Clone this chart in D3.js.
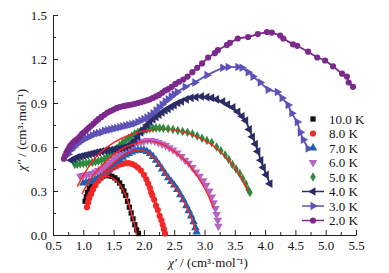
<!DOCTYPE html>
<html>
<head>
<meta charset="utf-8">
<script src="https://cdn.jsdelivr.net/npm/d3@7"></script>
<style>
  body { margin: 0; background: #fff; }
  text { font-family: "Liberation Serif", "Times New Roman", serif; }
</style>
</head>
<body>
<svg id="chart" width="389" height="273"></svg>
<script>
// Cole-Cole data: [chi', chi''] pairs
var labels = ["10.0 K", "8.0 K", "7.0 K", "6.0 K", "5.0 K", "4.0 K", "3.0 K", "2.0 K"];

var t10 = [[1.03,0.23],[1.05,0.26],[1.07,0.29],[1.1,0.32],[1.14,0.35],[1.18,0.37],[1.22,0.385],[1.27,0.395],[1.32,0.40],[1.37,0.405],[1.42,0.405],[1.47,0.40],[1.52,0.39],[1.56,0.375],[1.6,0.355],[1.64,0.33],[1.67,0.30],[1.7,0.27],[1.73,0.23],[1.76,0.19],[1.79,0.15],[1.82,0.11],[1.85,0.07],[1.88,0.035],[1.91,0.01]];
var t8 = [[1.06,0.19],[1.08,0.22],[1.1,0.25],[1.13,0.28],[1.16,0.31],[1.2,0.34],[1.25,0.37],[1.3,0.39],[1.35,0.41],[1.4,0.43],[1.45,0.445],[1.5,0.46],[1.55,0.47],[1.6,0.48],[1.65,0.485],[1.7,0.49],[1.75,0.49],[1.8,0.485],[1.85,0.475],[1.9,0.46],[1.95,0.44],[2.0,0.41],[2.04,0.38],[2.07,0.35],[2.1,0.32],[2.12,0.29],[2.14,0.27],[2.17,0.24],[2.2,0.2],[2.23,0.17],[2.26,0.13],[2.29,0.1],[2.31,0.07],[2.33,0.04],[2.35,0.01]];
var t7 = [[1.0,0.355],[1.05,0.36],[1.1,0.365],[1.15,0.37],[1.2,0.38],[1.25,0.39],[1.3,0.405],[1.35,0.42],[1.4,0.44],[1.45,0.46],[1.5,0.48],[1.55,0.50],[1.6,0.515],[1.65,0.53],[1.7,0.545],[1.75,0.555],[1.8,0.565],[1.85,0.575],[1.9,0.58],[1.95,0.58],[2.0,0.578],[2.05,0.57],[2.1,0.555],[2.15,0.535],[2.2,0.51],[2.25,0.48],[2.3,0.45],[2.35,0.42],[2.4,0.39],[2.45,0.365],[2.5,0.34],[2.55,0.31],[2.6,0.275],[2.65,0.24],[2.7,0.2],[2.74,0.165],[2.78,0.13],[2.82,0.09],[2.85,0.05],[2.87,0.02]];
var t6 = [[0.95,0.40],[1.0,0.405],[1.05,0.41],[1.1,0.415],[1.15,0.42],[1.2,0.43],[1.25,0.44],[1.3,0.45],[1.35,0.465],[1.4,0.48],[1.45,0.50],[1.5,0.52],[1.55,0.54],[1.6,0.56],[1.65,0.575],[1.7,0.59],[1.75,0.60],[1.8,0.61],[1.85,0.62],[1.9,0.63],[1.95,0.635],[2.0,0.64],[2.06,0.645],[2.12,0.645],[2.18,0.64],[2.24,0.63],[2.3,0.62],[2.36,0.61],[2.42,0.595],[2.48,0.58],[2.55,0.56],[2.62,0.535],[2.68,0.51],[2.74,0.49],[2.8,0.46],[2.86,0.43],[2.92,0.40],[2.98,0.37],[3.03,0.34],[3.08,0.30],[3.12,0.26],[3.15,0.22],[3.18,0.18],[3.2,0.14],[3.22,0.10],[3.23,0.06]];
var t5 = [[0.86,0.48],[0.9,0.482],[0.95,0.485],[1.0,0.488],[1.05,0.49],[1.1,0.492],[1.15,0.495],[1.2,0.50],[1.25,0.505],[1.3,0.51],[1.35,0.52],[1.4,0.535],[1.45,0.55],[1.5,0.57],[1.55,0.59],[1.6,0.61],[1.65,0.63],[1.7,0.645],[1.75,0.66],[1.8,0.675],[1.85,0.69],[1.9,0.70],[1.95,0.71],[2.0,0.715],[2.05,0.72],[2.1,0.725],[2.15,0.728],[2.2,0.73],[2.26,0.73],[2.32,0.728],[2.4,0.725],[2.48,0.72],[2.56,0.713],[2.64,0.705],[2.72,0.70],[2.8,0.69],[2.88,0.675],[2.96,0.66],[3.04,0.645],[3.12,0.63],[3.2,0.6],[3.27,0.575],[3.34,0.545],[3.4,0.515],[3.46,0.48],[3.52,0.45],[3.58,0.42],[3.63,0.385],[3.68,0.35],[3.72,0.31],[3.75,0.29]];
var t4 = [[0.8,0.51],[0.85,0.52],[0.9,0.53],[0.95,0.535],[1.0,0.54],[1.05,0.545],[1.1,0.55],[1.15,0.555],[1.2,0.56],[1.25,0.565],[1.3,0.57],[1.35,0.575],[1.4,0.578],[1.45,0.58],[1.5,0.583],[1.55,0.587],[1.6,0.59],[1.65,0.595],[1.7,0.60],[1.75,0.61],[1.8,0.625],[1.85,0.645],[1.9,0.67],[1.95,0.70],[2.0,0.725],[2.05,0.75],[2.1,0.77],[2.15,0.79],[2.2,0.805],[2.25,0.82],[2.3,0.835],[2.35,0.85],[2.4,0.86],[2.45,0.875],[2.5,0.885],[2.56,0.90],[2.62,0.91],[2.7,0.925],[2.78,0.935],[2.86,0.94],[2.95,0.945],[3.04,0.94],[3.12,0.935],[3.2,0.925],[3.3,0.91],[3.38,0.89],[3.47,0.87],[3.55,0.84],[3.62,0.81],[3.68,0.78],[3.74,0.72],[3.79,0.67],[3.84,0.62],[3.88,0.57],[3.93,0.51],[3.97,0.46],[4.02,0.41],[4.08,0.35]];
var t3 = [[0.75,0.55],[0.8,0.58],[0.85,0.6],[0.9,0.62],[0.95,0.635],[1.0,0.65],[1.05,0.66],[1.1,0.67],[1.15,0.68],[1.2,0.69],[1.25,0.695],[1.3,0.70],[1.35,0.71],[1.4,0.715],[1.45,0.72],[1.5,0.725],[1.55,0.73],[1.6,0.735],[1.65,0.74],[1.7,0.745],[1.75,0.75],[1.8,0.755],[1.85,0.76],[1.9,0.77],[1.95,0.78],[2.0,0.79],[2.05,0.8],[2.1,0.815],[2.15,0.83],[2.2,0.85],[2.25,0.87],[2.3,0.89],[2.35,0.91],[2.4,0.925],[2.45,0.945],[2.5,0.96],[2.55,0.975],[2.68,1.01],[2.84,1.04],[3.04,1.09],[3.3,1.14],[3.39,1.145],[3.55,1.145],[3.62,1.14],[3.72,1.11],[3.8,1.08],[3.92,1.04],[4.05,0.99],[4.2,0.975],[4.28,0.934],[4.38,0.886],[4.44,0.83],[4.53,0.77],[4.58,0.70],[4.63,0.65],[4.71,0.59]];
var t2 = [[0.68,0.52],[0.70,0.54],[0.72,0.56],[0.74,0.575],[0.76,0.59],[0.78,0.605],[0.80,0.615],[0.83,0.63],[0.86,0.64],[0.89,0.65],[0.92,0.66],[0.95,0.675],[0.98,0.69],[1.01,0.70],[1.05,0.715],[1.09,0.73],[1.13,0.745],[1.17,0.76],[1.21,0.775],[1.25,0.79],[1.30,0.805],[1.35,0.82],[1.40,0.835],[1.45,0.845],[1.50,0.855],[1.55,0.865],[1.60,0.872],[1.65,0.878],[1.70,0.882],[1.75,0.886],[1.80,0.89],[1.85,0.895],[1.90,0.90],[1.95,0.905],[2.00,0.912],[2.05,0.918],[2.10,0.925],[2.15,0.935],[2.20,0.945],[2.25,0.955],[2.30,0.97],[2.35,0.985],[2.40,0.995],[2.46,1.01],[2.52,1.03],[2.58,1.045],[2.65,1.06],[2.72,1.08],[2.80,1.11],[2.88,1.14],[2.96,1.17],[3.06,1.21],[3.17,1.24],[3.22,1.26],[3.37,1.295],[3.42,1.31],[3.55,1.34],[3.72,1.35],[3.88,1.37],[4.03,1.384],[4.11,1.38],[4.25,1.36],[4.3,1.34],[4.46,1.30],[4.53,1.29],[4.71,1.25],[4.86,1.21],[4.99,1.19],[5.12,1.15],[5.27,1.10],[5.35,1.08],[5.38,1.04],[5.45,1.01]];

// generalized Debye fits (red lines)
var fit10 = [[1.04,0.22],[1.1,0.29],[1.2,0.355],[1.3,0.39],[1.4,0.40],[1.5,0.385],[1.6,0.345],[1.7,0.27],[1.78,0.17],[1.84,0.08],[1.88,0.0]];
var fit8 = [[1.06,0.18],[1.15,0.29],[1.3,0.39],[1.5,0.46],[1.7,0.49],[1.85,0.475],[2.0,0.41],[2.15,0.28],[2.25,0.15],[2.33,0.02]];
var fit7 = [[1.05,0.25],[1.15,0.33],[1.3,0.41],[1.5,0.49],[1.7,0.55],[1.9,0.58],[2.05,0.565],[2.2,0.51],[2.4,0.39],[2.6,0.27],[2.75,0.15],[2.86,0.02]];
var fit6 = [[0.98,0.28],[1.1,0.37],[1.3,0.47],[1.5,0.55],[1.7,0.6],[1.9,0.63],[2.1,0.64],[2.3,0.62],[2.5,0.57],[2.7,0.5],[2.9,0.39],[3.05,0.28],[3.15,0.18]];
var fit5 = [[0.9,0.33],[1.05,0.44],[1.25,0.55],[1.5,0.63],[1.75,0.68],[2.0,0.71],[2.25,0.72],[2.5,0.715],[2.75,0.69],[3.0,0.645],[3.2,0.59],[3.4,0.51],[3.55,0.43],[3.65,0.36],[3.72,0.3]];

var xTicks = [0.5, 1.0, 1.5, 2.0, 2.5, 3.0, 3.5, 4.0, 4.5, 5.0, 5.5];
var yTicks = [0.0, 0.3, 0.6, 0.9, 1.2, 1.5];

var series = [
  { label: labels[0], data: t10, color: "#111111", shape: "square", rot: 0,   line: false },
  { label: labels[1], data: t8,  color: "#ee2a2a", shape: "circle", rot: 0,   line: false },
  { label: labels[2], data: t7,  color: "#2160b0", shape: "tri",    rot: 0,   line: false },
  { label: labels[3], data: t6,  color: "#b565c2", shape: "tri",    rot: 180, line: false },
  { label: labels[4], data: t5,  color: "#2e8a3e", shape: "diamond",rot: 0,   line: false },
  { label: labels[5], data: t4,  color: "#2a2c66", shape: "tri",    rot: -90, line: true },
  { label: labels[6], data: t3,  color: "#5d52b8", shape: "tri",    rot: 90,  line: true },
  { label: labels[7], data: t2,  color: "#7b2a8c", shape: "circle", rot: 0,   line: true }
];
var fits = [fit10, fit8, fit7, fit6, fit5];

var svg = d3.select("#chart");
var x = d3.scaleLinear().domain([0.5, 5.5]).range([53, 356]);
var y = d3.scaleLinear().domain([0, 1.5]).range([235, 15]);

var symType = { square: d3.symbolSquare, circle: d3.symbolCircle, tri: d3.symbolTriangle, diamond: d3.symbolDiamond };
var symSize = { square: 28, circle: 30, tri: 32, diamond: 26 };
function sym(s) { return d3.symbol().type(symType[s.shape]).size(symSize[s.shape])(); }

// axes
svg.append("g").attr("transform", "translate(0,235)")
  .call(d3.axisBottom(x).tickValues(xTicks).tickSize(-5).tickSizeOuter(0).tickPadding(6).tickFormat(d3.format(".1f")));
svg.append("g").attr("transform", "translate(0,235)")
  .call(d3.axisBottom(x).tickValues(xTicks.slice(0, -1).map(function(d) { return d + 0.25; })).tickSize(-3).tickSizeOuter(0).tickFormat(""))
  .select(".domain").remove();
svg.append("g").attr("transform", "translate(53,0)")
  .call(d3.axisLeft(y).tickValues(yTicks).tickSize(-5).tickSizeOuter(0).tickPadding(6).tickFormat(d3.format(".1f")));
svg.append("g").attr("transform", "translate(53,0)")
  .call(d3.axisLeft(y).tickValues(yTicks.slice(0, -1).map(function(d) { return d + 0.15; })).tickSize(-3).tickSizeOuter(0).tickFormat(""))
  .select(".domain").remove();
svg.selectAll(".tick text").attr("font-size", 13).attr("fill", "#111")
  .style("font-family", "'Liberation Serif', serif");
svg.selectAll(".domain, .tick line").attr("stroke", "#222");

// series
var line = d3.line().x(function(d) { return x(d[0]); }).y(function(d) { return y(d[1]); });
series.forEach(function(s) {
  var g = svg.append("g");
  if (s.line) {
    g.append("path").attr("d", line(s.data)).attr("fill", "none")
      .attr("stroke", s.color).attr("stroke-width", 1.8);
  }
  g.selectAll("path.pt").data(s.data).enter().append("path").attr("class", "pt")
    .attr("d", sym(s))
    .attr("transform", function(d) { return "translate(" + x(d[0]) + "," + y(d[1]) + ") rotate(" + s.rot + ")"; })
    .attr("fill", s.color);
});

// fits
var curve = d3.line().curve(d3.curveCatmullRom).x(function(d) { return x(d[0]); }).y(function(d) { return y(d[1]); });
fits.forEach(function(f) {
  svg.append("path").attr("d", curve(f)).attr("fill", "none")
    .attr("stroke", "#ff2020").attr("stroke-width", 1.4);
});

// legend
var leg = svg.append("g");
series.forEach(function(s, i) {
  var ly = 119 + i * 14.5;
  if (s.line) {
    leg.append("line").attr("x1", 302).attr("x2", 324).attr("y1", ly).attr("y2", ly)
      .attr("stroke", s.color).attr("stroke-width", 1.5);
  }
  leg.append("path").attr("d", sym(s))
    .attr("transform", "translate(313," + ly + ") rotate(" + s.rot + ")")
    .attr("fill", s.color);
  leg.append("text").attr("x", 329).attr("y", ly + 4.5).attr("font-size", 13).attr("fill", "#111")
    .text(s.label);
});

// axis titles
var xt = svg.append("text").attr("x", 208).attr("y", 267).attr("text-anchor", "middle").attr("font-size", 13).attr("fill", "#111");
xt.append("tspan").attr("font-style", "italic").text("χ′");
xt.append("tspan").text(" / (cm³·mol⁻¹)");

var yt = svg.append("text").attr("transform", "translate(26,130) rotate(-90)").attr("text-anchor", "middle").attr("font-size", 13).attr("fill", "#111");
yt.append("tspan").attr("font-style", "italic").text("χ″");
yt.append("tspan").text(" / (cm³·mol⁻¹)");
</script>
</body>
</html>
